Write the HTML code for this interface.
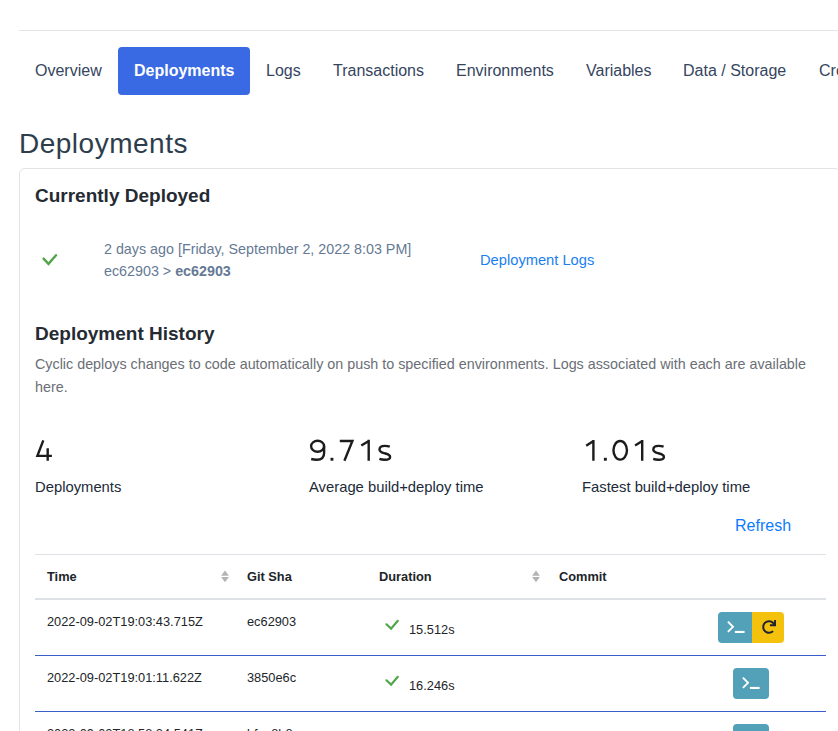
<!DOCTYPE html>
<html><head><meta charset="utf-8">
<style>
html,body{margin:0;padding:0;background:#fff;width:838px;height:731px;overflow:hidden;position:relative;font-family:"Liberation Sans",sans-serif;}
.a{position:absolute;white-space:nowrap;line-height:1;}
.nav{font-size:16px;color:#35455e;top:63px;}
.hl{position:absolute;height:1px;}
.th{font-size:12.8px;font-weight:bold;color:#212529;}
.td{font-size:12.8px;color:#212529;}
.btn{position:absolute;height:31px;}
</style></head><body>
<div class="hl" style="left:19px;top:30px;width:819px;background:#e4e4e4"></div>

<div style="position:absolute;left:118px;top:47px;width:132px;height:48px;background:#396ae3;border-radius:4px"></div>
<div class="a nav" style="left:35px">Overview</div>
<div class="a nav" style="left:134px;color:#fff;font-weight:bold">Deployments</div>
<div class="a nav" style="left:266px">Logs</div>
<div class="a nav" style="left:333px">Transactions</div>
<div class="a nav" style="left:456px">Environments</div>
<div class="a nav" style="left:586px">Variables</div>
<div class="a nav" style="left:683px">Data / Storage</div>
<div class="a nav" style="left:819px">Crons</div>

<div class="a" style="left:19px;top:130px;font-size:28px;letter-spacing:0.5px;color:#2d3d4c">Deployments</div>

<div style="position:absolute;left:19px;top:168px;width:820px;height:700px;border:1px solid #e3e3e3;border-radius:6px"></div>

<div class="a" style="left:35px;top:186px;font-size:19px;font-weight:bold;color:#262b33">Currently Deployed</div>

<svg style="position:absolute;left:40px;top:250px" width="20" height="18" viewBox="0 0 20 18"><path d="M3.6 8.6 L8.5 13.9 L16 5.2" fill="none" stroke="#52a548" stroke-width="2.4" stroke-linecap="round"/></svg>

<div class="a" style="left:104px;top:242px;font-size:14.3px;color:#657a94">2 days ago [Friday, September 2, 2022 8:03 PM]</div>
<div class="a" style="left:104px;top:264px;font-size:14.3px;color:#657a94">ec62903 &gt; <b>ec62903</b></div>
<div class="a" style="left:480px;top:253px;font-size:14.7px;color:#1a7ff0">Deployment Logs</div>

<div class="a" style="left:35px;top:324px;font-size:19px;font-weight:bold;color:#262b33">Deployment History</div>
<div class="a" style="left:35px;top:357px;font-size:14.33px;color:#6a6e75">Cyclic deploys changes to code automatically on push to specified environments. Logs associated with each are available</div>
<div class="a" style="left:35px;top:380px;font-size:14.33px;color:#6a6e75">here.</div>

<svg style="position:absolute;left:0;top:0" width="838" height="731"><g fill="none" stroke="#1c1c1c" stroke-width="2.4">
<path d="M43.3 440.4 L37.4 455.9 H51.9 M47.7 448.3 V460.8"/>
<ellipse cx="317.6" cy="446.3" rx="6.5" ry="5.5"/>
<path d="M324.1 446 V453 C324.1 457.6 321.3 459.7 316.8 459.7 C314.8 459.7 313 459.5 311.2 459"/>
<path d="M339.8 441 H352.4 L344.4 460.8"/>
<path d="M368.7 439.8 V460.8 M361.3 445.6 L368.4 441.2"/>
<path transform="translate(378.4 444.8)" d="M11.4 1.9 C9.8 1.3 8 1.05 6.4 1.05 C3.2 1.05 1.1 2.4 1.1 4.7 C1.1 6.9 3 7.6 5.6 8.3 L7 8.7 C10 9.5 11.7 10.4 11.7 12.1 C11.7 14.3 9.5 14.95 6.2 14.95 C4.2 14.95 2.4 14.6 1 14.1"/>
<path d="M593.4 439.9 V460.8 M586.2 445.8 L593.1 441.3"/>
<ellipse cx="620.2" cy="450.3" rx="6.75" ry="9.35"/>
<path d="M642.2 439.9 V460.8 M635.1 445.6 L641.9 441.3"/>
<path transform="translate(652.2 444.8)" d="M11.4 1.9 C9.8 1.3 8 1.05 6.4 1.05 C3.2 1.05 1.1 2.4 1.1 4.7 C1.1 6.9 3 7.6 5.6 8.3 L7 8.7 C10 9.5 11.7 10.4 11.7 12.1 C11.7 14.3 9.5 14.95 6.2 14.95 C4.2 14.95 2.4 14.6 1 14.1"/>
</g><g fill="#1c1c1c"><rect x="330.5" y="457.8" width="2.9" height="2.9"/><rect x="603.9" y="457.8" width="2.9" height="2.9"/></g></svg>
<div class="a" style="left:35px;top:480px;font-size:14.8px;color:#212a38">Deployments</div>
<div class="a" style="left:309px;top:480px;font-size:14.8px;color:#212a38">Average build+deploy time</div>
<div class="a" style="left:582px;top:480px;font-size:14.8px;color:#212a38">Fastest build+deploy time</div>

<div class="a" style="left:735px;top:518px;font-size:16px;color:#0c7cfb">Refresh</div>

<div class="hl" style="left:35px;top:554px;width:791px;background:#dee2e6"></div>
<div class="hl" style="left:35px;top:598px;width:791px;height:2px;background:#dee2e6"></div>
<div class="a th" style="left:47px;top:571px">Time</div>
<div class="a th" style="left:247px;top:571px">Git Sha</div>
<div class="a th" style="left:379px;top:571px">Duration</div>
<div class="a th" style="left:559px;top:571px">Commit</div>
<svg style="position:absolute;left:221px;top:570px" width="9" height="13" viewBox="0 0 9 13"><path d="M4 0.4 L7.9 5.7 L0.1 5.7Z M0.1 7.1 L7.9 7.1 L4 12.2Z" fill="#b4b4b4"/></svg>
<svg style="position:absolute;left:532px;top:570px" width="9" height="13" viewBox="0 0 9 13"><path d="M4 0.4 L7.9 5.7 L0.1 5.7Z M0.1 7.1 L7.9 7.1 L4 12.2Z" fill="#b4b4b4"/></svg>

<div class="hl" style="left:35px;top:655px;width:791px;background:#3a5fcc"></div>
<div class="hl" style="left:35px;top:711px;width:791px;background:#3a5fcc"></div>

<!-- row 1 -->
<div class="a td" style="left:47px;top:616px">2022-09-02T19:03:43.715Z</div>
<div class="a td" style="left:247px;top:616px">ec62903</div>
<svg style="position:absolute;left:384px;top:618px" width="17" height="14" viewBox="0 0 17 14"><path d="M2.4 6.3 L7.1 10.6 L13.8 2.8" fill="none" stroke="#52a548" stroke-width="2.2" stroke-linecap="round"/></svg>
<div class="a td" style="left:409px;top:624px">15.512s</div>
<div class="btn" style="left:718px;top:612px;width:34px;background:#52a1b8;border-radius:4px 0 0 4px"></div>
<div class="btn" style="left:752px;top:612px;width:32px;background:#f4c20d;border-radius:0 4px 4px 0"></div>
<svg style="position:absolute;left:727px;top:620px" width="19" height="15"><path d="M0.9 1.7 L6 6.8 L0.9 11.9" fill="none" stroke="#fff" stroke-width="1.9"/><rect x="7.9" y="10.9" width="9.7" height="2.1" fill="#fff"/></svg>
<svg style="position:absolute;left:761.5px;top:619.8px" width="14" height="14" viewBox="0 0 512 512"><path d="M500.33 0h-47.41a12 12 0 0 0-12 12.57l4 82.76A247.42 247.42 0 0 0 256 8C119.34 8 7.9 119.53 8 256.19 8.1 393.07 119.1 504 256 504a247.1 247.1 0 0 0 166.18-63.91 12 12 0 0 0 .48-17.43l-34-34a12 12 0 0 0-16.38-.55A176 176 0 1 1 402.1 157.8l-101.53-4.87a12 12 0 0 0-12.57 12v47.41a12 12 0 0 0 12 12h200.33a12 12 0 0 0 12-12V12a12 12 0 0 0-12-12z" fill="#1f2430"/></svg>

<!-- row 2 -->
<div class="a td" style="left:47px;top:672px">2022-09-02T19:01:11.622Z</div>
<div class="a td" style="left:247px;top:672px">3850e6c</div>
<svg style="position:absolute;left:384px;top:674px" width="17" height="14" viewBox="0 0 17 14"><path d="M2.4 6.3 L7.1 10.6 L13.8 2.8" fill="none" stroke="#52a548" stroke-width="2.2" stroke-linecap="round"/></svg>
<div class="a td" style="left:409px;top:680px">16.246s</div>
<div class="btn" style="left:733px;top:668px;width:36px;background:#52a1b8;border-radius:4px"></div>
<svg style="position:absolute;left:742px;top:676px" width="19" height="15"><path d="M0.9 1.7 L6 6.8 L0.9 11.9" fill="none" stroke="#fff" stroke-width="1.9"/><rect x="7.9" y="10.9" width="9.7" height="2.1" fill="#fff"/></svg>

<!-- row 3 -->
<div class="a td" style="left:47px;top:728px">2022-09-02T18:58:34.541Z</div>
<div class="a td" style="left:247px;top:728px">bfca8b8</div>
<div class="btn" style="left:733px;top:724px;width:36px;background:#52a1b8;border-radius:4px"></div>
<svg style="position:absolute;left:742px;top:732px" width="19" height="15"><path d="M0.9 1.7 L6 6.8 L0.9 11.9" fill="none" stroke="#fff" stroke-width="1.9"/><rect x="7.9" y="10.9" width="9.7" height="2.1" fill="#fff"/></svg>

</body></html>
